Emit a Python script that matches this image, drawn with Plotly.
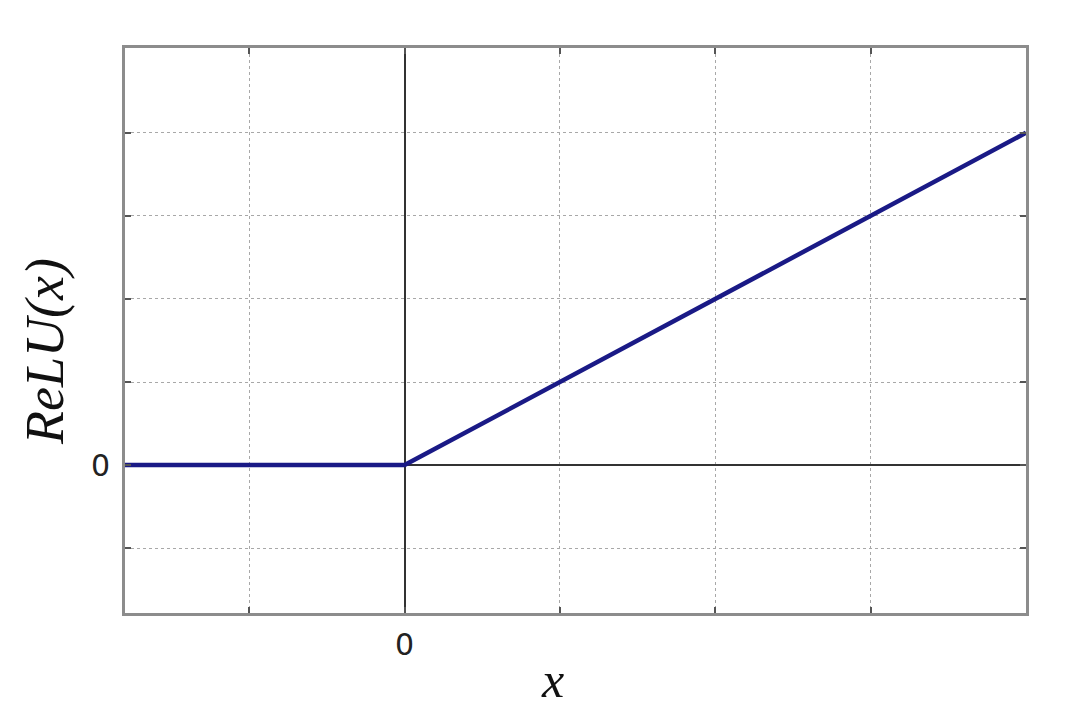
import plotly.graph_objects as go

# Data
x_vals = [-1.8, 0, 4]
y_vals = [0, 0, 4]
x_tickvals = [-1, 0, 1, 2, 3]
x_ticktext = ["", "0", "", "", ""]
y_tickvals = [-1, 0, 1, 2, 3, 4]
y_ticktext = ["", "0", "", "", "", ""]
x_title = "x"
y_title = "ReLU(x)"

# page body has an 8px default margin; compensate
OFF = 8
W, H = 1079 - 2 * OFF, 717 - 2 * OFF
L, R, T, B = 125 - OFF, 1079 - 1026 - OFF, 48 - OFF, 717 - 613 - OFF

fig = go.Figure()
fig.add_trace(go.Scatter(
    x=x_vals, y=y_vals, mode="lines",
    line=dict(color="#1a1a86", width=4.5),
    showlegend=False, hoverinfo="skip",
))

axis_common = dict(
    showgrid=True, gridcolor="#a8a8a8", griddash="dot", gridwidth=1.3,
    zeroline=True, zerolinecolor="#333333", zerolinewidth=1.6,
    showline=True, linecolor="#8c8c8c", linewidth=3, mirror="ticks",
    ticks="inside", ticklen=6, tickcolor="#555555", tickwidth=1.5,
    tickfont=dict(family="DejaVu Sans", size=30, color="#222222"),
)

fig.update_xaxes(range=[-1.8, 4], tickvals=x_tickvals, ticktext=x_ticktext,
                 ticklabelstandoff=3, **axis_common)
fig.update_yaxes(range=[-1.78, 5.02], tickvals=y_tickvals, ticktext=y_ticktext,
                 ticklabelstandoff=6, **axis_common)

pw = 1026 - 125
ph = 613 - 48
fig.add_annotation(text="<i>" + x_title + "</i>", xref="paper", yref="paper",
                   x=(552 - 125) / pw, y=-(680 - 613) / ph,
                   showarrow=False, xanchor="center", yanchor="middle",
                   font=dict(family="Liberation Serif", size=50, color="#111111"))
fig.add_annotation(text="<i>" + y_title + "</i>", xref="paper", yref="paper",
                   x=-(125 - 45) / pw, y=(613 - 352) / ph,
                   showarrow=False, xanchor="center", yanchor="middle", textangle=-90,
                   font=dict(family="Liberation Serif", size=54, color="#111111"))

fig.update_layout(
    width=W, height=H,
    margin=dict(l=L, r=R, t=T, b=B),
    paper_bgcolor="white", plot_bgcolor="white",
)

fig.write_html("out.html")
